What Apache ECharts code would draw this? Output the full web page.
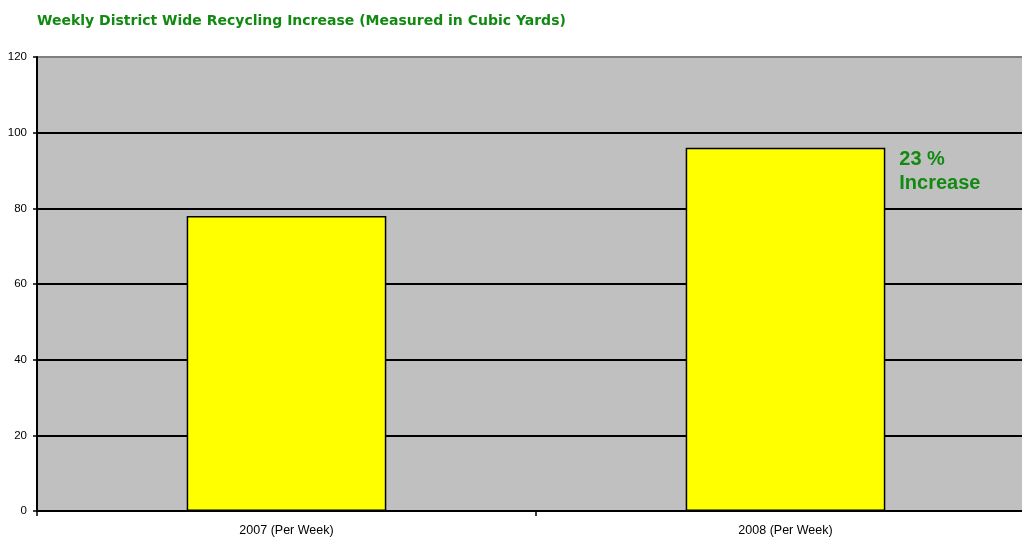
<!DOCTYPE html>
<html>
<head>
<meta charset="utf-8">
<script src="https://cdn.jsdelivr.net/npm/echarts@6/dist/echarts.min.js"></script>
<style>
  html, body { margin: 0; padding: 0; background: #fff; overflow: hidden; }
  #chart { width: 1035px; height: 542px; }
</style>
</head>
<body>
<div id="chart"></div>
<script>
// data
var categories = ["2007 (Per Week)", "2008 (Per Week)"];
var cubicYards = [78, 96];
var yTicks = [0, 20, 40, 60, 80, 100, 120];
var note = "23 %\nIncrease";

var green = "#128a12";
var chart = echarts.init(document.getElementById("chart"));

chart.setOption({
  animation: false,
  backgroundColor: "#ffffff",
  textStyle: { fontFamily: "Liberation Sans, Arial, sans-serif" },
  title: {
    text: "Weekly District Wide Recycling Increase (Measured in Cubic Yards)",
    left: 32,
    top: 9,
    textStyle: { color: green, fontSize: 14, fontWeight: "bold", fontFamily: "DejaVu Sans, Verdana, sans-serif" }
  },
  grid: {
    left: 37,
    top: 57,
    right: 0,
    bottom: 31,
    show: true,
    backgroundColor: "#c0c0c0",
    borderWidth: 0
  },
  xAxis: {
    type: "category",
    data: categories,
    axisLine: { lineStyle: { color: "#000", width: 2 } },
    axisTick: { show: true, length: 5, lineStyle: { color: "#000", width: 1.5 } },
    axisLabel: { color: "#000", fontSize: 12.5, margin: 13 }
  },
  yAxis: {
    type: "value",
    min: yTicks[0],
    max: yTicks[yTicks.length - 1],
    interval: yTicks[1] - yTicks[0],
    axisLine: { show: true, lineStyle: { color: "#000", width: 2 } },
    axisTick: { show: true, length: 4, lineStyle: { color: "#000", width: 1.5 } },
    axisLabel: { color: "#000", fontSize: 11.5, margin: 10 },
    splitLine: {
      show: true,
      lineStyle: {
        color: ["#000", "#000", "#000", "#000", "#000", "#000", "#808080"],
        width: 2
      }
    }
  },
  series: [{
    type: "bar",
    barWidth: "40%",
    itemStyle: { color: "#ffff00", borderColor: "#000", borderWidth: 1.5 },
    data: cubicYards.map(function (v, i) {
      if (i === 1) {
        return {
          value: v,
          label: {
            show: true,
            position: ["107%", 0],
            formatter: note,
            color: green,
            fontSize: 20,
            fontWeight: "bold",
            lineHeight: 24,
            align: "left",
            verticalAlign: "top"
          }
        };
      }
      return v;
    })
  }]
});
</script>
</body>
</html>
